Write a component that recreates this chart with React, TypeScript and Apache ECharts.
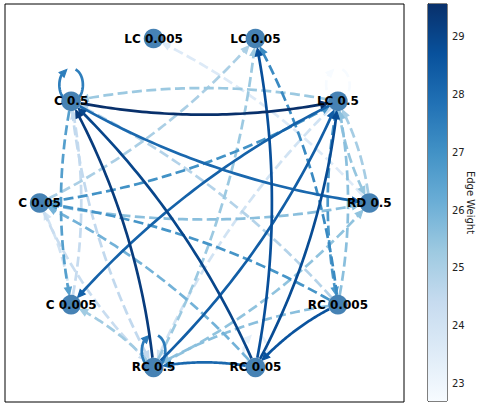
import React, { useEffect, useRef } from "react";
import * as echarts from "echarts";

// ---- data ----
const nodeNames = [
  "RD 0.5",
  "LC 0.5",
  "LC 0.05",
  "LC 0.005",
  "C 0.5",
  "C 0.05",
  "C 0.005",
  "RC 0.5",
  "RC 0.05",
  "RC 0.005",
];

const edgeSources = [
  "C 0.5", "RC 0.5", "RC 0.05", "C 0.5", "RC 0.05", "RC 0.05", "RC 0.5", "LC 0.5",
  "RC 0.005", "RC 0.05", "C 0.5", "RC 0.5", "LC 0.5", "C 0.05", "RC 0.005", "C 0.05",
  "RC 0.05", "C 0.5", "C 0.005", "C 0.05", "RC 0.005", "RD 0.5", "LC 0.5", "LC 0.5",
  "RD 0.5", "LC 0.5", "RC 0.005", "RC 0.5", "RC 0.005", "RC 0.5", "RC 0.5", "C 0.5",
  "C 0.05", "LC 0.5", "RC 0.05", "RC 0.005", "C 0.005",
];
const edgeTargets = [
  "LC 0.5", "C 0.5", "C 0.5", "RD 0.5", "LC 0.05", "LC 0.5", "LC 0.5", "C 0.005",
  "RC 0.05", "RC 0.5", "C 0.5", "RC 0.5", "C 0.5", "LC 0.5", "C 0.05", "RD 0.5",
  "C 0.05", "C 0.005", "C 0.5", "LC 0.05", "LC 0.05", "LC 0.005", "LC 0.5", "RD 0.5",
  "LC 0.5", "RC 0.005", "LC 0.5", "LC 0.05", "RC 0.5", "RD 0.5", "C 0.005", "RC 0.5",
  "RC 0.5", "RC 0.5", "RC 0.05", "C 0.5", "C 0.05",
];
const edgeWeights = [
  29.57, 29.25, 29.0, 28.1, 28.75, 28.85, 28.35, 28.25,
  28.65, 28.1, 27.5, 27.6, 25.3, 27.0, 26.9, 25.6,
  26.0, 26.6, 24.4, 25.0, 27.2, 23.6, 22.69, 25.4,
  25.1, 26.8, 25.6, 25.3, 25.6, 25.5, 25.2, 24.5,
  24.3, 24.0, 23.3, 24.8, 24.0,
];

const colorbarTicks = [23, 24, 25, 26, 27, 28, 29];
const colorbarTitle = "Edge Weight";

// ---- Blues colormap ----
const BLUES = [
  "#f7fbff", "#deebf7", "#c6dbef", "#9ecae1", "#6baed6",
  "#4292c6", "#2171b5", "#08519c", "#08306b",
];
function hexToRgb(h: string): number[] {
  return [1, 3, 5].map((i) => parseInt(h.slice(i, i + 2), 16));
}
function blues(t: number): string {
  const tt = Math.max(0, Math.min(1, t)) * (BLUES.length - 1);
  const i = Math.min(BLUES.length - 2, Math.floor(tt));
  const f = tt - i;
  const a = hexToRgb(BLUES[i]);
  const b = hexToRgb(BLUES[i + 1]);
  const c = a.map((v, k) => Math.round(v + (b[k] - v) * f));
  return `rgb(${c[0]},${c[1]},${c[2]})`;
}

type P = [number, number];

function sampleQuad(p0: P, c: P, p1: P, n = 60): P[] {
  const out: P[] = [];
  for (let i = 0; i <= n; i++) {
    const t = i / n;
    const a = (1 - t) * (1 - t), b = 2 * (1 - t) * t, d = t * t;
    out.push([a * p0[0] + b * c[0] + d * p1[0], a * p0[1] + b * c[1] + d * p1[1]]);
  }
  return out;
}
function sampleCubic(p0: P, c1: P, c2: P, p1: P, n = 40): P[] {
  const out: P[] = [];
  for (let i = 0; i <= n; i++) {
    const t = i / n;
    const a = (1 - t) ** 3, b = 3 * (1 - t) ** 2 * t, c = 3 * (1 - t) * t * t, d = t ** 3;
    out.push([
      a * p0[0] + b * c1[0] + c * c2[0] + d * p1[0],
      a * p0[1] + b * c1[1] + c * c2[1] + d * p1[1],
    ]);
  }
  return out;
}
const dist = (a: P, b: P) => Math.hypot(a[0] - b[0], a[1] - b[1]);

function trimStart(pts: P[], center: P, r: number): P[] {
  for (let i = 0; i < pts.length - 1; i++) {
    const d0 = dist(pts[i], center), d1 = dist(pts[i + 1], center);
    if (d0 < r && d1 >= r) {
      const f = (r - d0) / (d1 - d0 || 1);
      const q: P = [pts[i][0] + (pts[i + 1][0] - pts[i][0]) * f, pts[i][1] + (pts[i + 1][1] - pts[i][1]) * f];
      return [q, ...pts.slice(i + 1)];
    }
  }
  return pts;
}
function trimEnd(pts: P[], center: P, r: number): P[] {
  return trimStart(pts.slice().reverse(), center, r).reverse();
}
function cutBack(pts: P[], len: number): { line: P[]; base: P } {
  let remain = len;
  for (let i = pts.length - 1; i > 0; i--) {
    const seg = dist(pts[i], pts[i - 1]);
    if (seg >= remain) {
      const f = remain / (seg || 1);
      const base: P = [pts[i][0] + (pts[i - 1][0] - pts[i][0]) * f, pts[i][1] + (pts[i - 1][1] - pts[i][1]) * f];
      return { line: [...pts.slice(0, i), base], base };
    }
    remain -= seg;
  }
  return { line: pts, base: pts[0] };
}

export default function App() {
  const ref = useRef<HTMLDivElement>(null);

  useEffect(() => {
    if (!ref.current) return;
    const chart = echarts.init(ref.current, null, { renderer: "svg" });

    const n = nodeNames.length;
    const nodePos: P[] = nodeNames.map((_, i) => {
      const th = (2 * Math.PI * i) / n;
      return [Math.cos(th), Math.sin(th)];
    });
    const xs = nodePos.map((p) => p[0]);
    const ys = nodePos.map((p) => p[1]);
    const lim = (arr: number[]) => {
      const lo = Math.min(...arr), hi = Math.max(...arr);
      const pad = 0.05 * (hi - lo);
      const a = lo - pad, b = hi + pad;
      const m = 0.05 * (b - a);
      return [a - m, b + m];
    };
    const [xmin, xmax] = lim(xs);
    const [ymin, ymax] = lim(ys);
    const loopV = 0.1 * (Math.max(...ys) - Math.min(...ys));
    const loopH = loopV * 0.5;

    const vmin = Math.min(...edgeWeights);
    const vmax = Math.max(...edgeWeights);
    const solidFrom = 27.35;
    const rad = 0.1;
    const shrinkPx = 9.8;
    const loopShrinkPx = 4.5;
    const headLen = 7.5;
    const headHalf = 3.4;

    const idx = (name: string) => nodeNames.indexOf(name);
    const edgeData = edgeWeights
      .map((w, i) => [idx(edgeSources[i]), idx(edgeTargets[i]), w])
      .sort((a, b) => a[2] - b[2]);

    const option: any = {
      animation: false,
      backgroundColor: "#ffffff",
      textStyle: { fontFamily: "DejaVu Sans" },
      grid: [
        { left: 5, top: 4, width: 399, height: 398, show: true, borderColor: "#000", borderWidth: 1, outerBoundsMode: "none", containLabel: false },
        { left: 428, top: 4, width: 19, height: 397, show: true, borderColor: "#000", borderWidth: 1, outerBoundsMode: "none", containLabel: false },
      ],
      xAxis: [
        { type: "value", gridIndex: 0, min: xmin, max: xmax, show: false },
        { type: "value", gridIndex: 1, min: 0, max: 1, show: false },
      ],
      yAxis: [
        { type: "value", gridIndex: 0, min: ymin, max: ymax, show: false },
        {
          type: "value",
          gridIndex: 1,
          min: vmin,
          max: vmax,
          position: "right",
          axisLine: { show: true, lineStyle: { color: "#000", width: 1 } },
          axisTick: { show: true, inside: false, length: 4, lineStyle: { color: "#000" }, customValues: colorbarTicks },
          axisLabel: { show: true, customValues: colorbarTicks, fontSize: 10, color: "#222", margin: 5, fontFamily: "DejaVu Sans" },
          splitLine: { show: false },
          name: colorbarTitle,
          nameLocation: "middle",
          nameRotate: -90,
          nameGap: 18,
          nameMoveOverlap: false,
          nameTextStyle: { fontSize: 10, lineHeight: 11, color: "#222", fontFamily: "DejaVu Sans" },
        },
      ],
      series: [
        {
          type: "custom",
          xAxisIndex: 1,
          yAxisIndex: 1,
          data: [[0, vmin]],
          silent: true,
          renderItem: (_p: any, api: any) => {
            const a = api.coord([0, vmax]);
            const b = api.coord([1, vmin]);
            return {
              type: "rect",
              shape: { x: a[0], y: a[1], width: b[0] - a[0], height: b[1] - a[1] },
              style: {
                fill: new echarts.graphic.LinearGradient(
                  0, 1, 0, 0,
                  BLUES.map((c, i) => ({ offset: i / (BLUES.length - 1), color: c }))
                ),
              },
            };
          },
        },
        {
          type: "custom",
          xAxisIndex: 0,
          yAxisIndex: 0,
          z: 1,
          silent: true,
          data: edgeData,
          renderItem: (_p: any, api: any) => {
            const s = api.value(0) as number;
            const t = api.value(1) as number;
            const w = api.value(2) as number;
            const color = blues((w - vmin) / (vmax - vmin));
            const dashed = w < solidFrom;
            const [x1, y1] = nodePos[s];
            const [x2, y2] = nodePos[t];
            let pts: P[];
            let start: P, end: P;
            let shrink = shrinkPx;
            if (s === t) {
              const c = (x: number, y: number) => api.coord([x, y]) as P;
              const a0 = c(x1, y1 + loopV), a1 = c(x1 + loopH, y1 + loopV), a2 = c(x1 + loopH, y1), a3 = c(x1, y1);
              const b1 = c(x1 - loopH, y1), b2 = c(x1 - loopH, y1 + loopV);
              pts = [...sampleCubic(a0, a1, a2, a3), ...sampleCubic(a3, b1, b2, a0).slice(1)];
              start = a0;
              end = a0;
              shrink = loopShrinkPx;
            } else {
              const p1 = api.coord([x1, y1]) as P;
              const p2 = api.coord([x2, y2]) as P;
              const dx = p2[0] - p1[0], dy = p2[1] - p1[1];
              const cp: P = [(p1[0] + p2[0]) / 2 - rad * dy, (p1[1] + p2[1]) / 2 + rad * dx];
              pts = sampleQuad(p1, cp, p2);
              start = p1;
              end = p2;
            }
            pts = trimStart(pts, start, shrink);
            pts = trimEnd(pts, end, shrink);
            const tip = pts[pts.length - 1];
            const { line, base } = cutBack(pts, headLen);
            const ux = (tip[0] - base[0]) / (dist(tip, base) || 1);
            const uy = (tip[1] - base[1]) / (dist(tip, base) || 1);
            const arrow: P[] = [
              tip,
              [base[0] - uy * headHalf, base[1] + ux * headHalf],
              [base[0] + uy * headHalf, base[1] - ux * headHalf],
            ];
            return {
              type: "group",
              children: [
                {
                  type: "polyline",
                  shape: { points: line },
                  style: {
                    stroke: color,
                    fill: null,
                    lineWidth: 2.7,
                    lineDash: dashed ? [10, 4.4] : null,
                    lineCap: "butt",
                  },
                },
                {
                  type: "polygon",
                  shape: { points: arrow },
                  style: { fill: color, stroke: color, lineWidth: 1.2, lineJoin: "miter" },
                },
              ],
            };
          },
        },
        {
          type: "scatter",
          xAxisIndex: 0,
          yAxisIndex: 0,
          z: 3,
          silent: true,
          symbol: "circle",
          symbolSize: 19.6,
          itemStyle: { color: "#4682b4", opacity: 1 },
          data: nodePos.map((p, i) => ({ name: nodeNames[i], value: p })),
          label: {
            show: true,
            position: "inside",
            formatter: "{b}",
            color: "#000",
            fontWeight: "bold",
            fontSize: 12,
            fontFamily: "DejaVu Sans",
          },
        },
      ],
    };

    chart.setOption(option);
    return () => chart.dispose();
  }, []);

  return (
    <div
      ref={ref}
      style={{ position: "absolute", left: 0, top: 0, width: 477, height: 404 }}
    />
  );
}
